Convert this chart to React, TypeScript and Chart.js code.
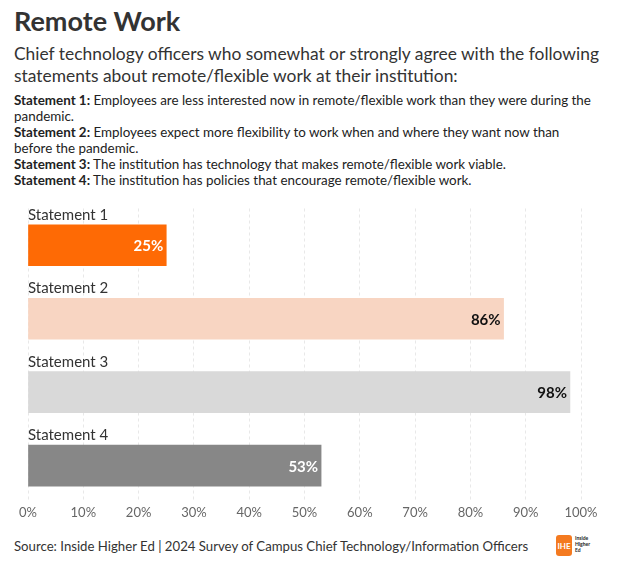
import React, { useEffect, useRef } from "react";
import { Chart, registerables } from "chart.js";

Chart.register(...registerables);

const categories = ["Statement 1", "Statement 2", "Statement 3", "Statement 4"];
const values = [25, 86, 98, 53];
const barColors = ["#fe6a05", "#f8d5c2", "#d9d9d9", "#878787"];
const valueLabelColors = ["#ffffff", "#111111", "#111111", "#ffffff"];
const xTicks = [0, 10, 20, 30, 40, 50, 60, 70, 80, 90, 100];

const FONT = "Lato, 'Open Sans', sans-serif";

const labelsPlugin = {
  id: "labelsPlugin",
  afterDatasetsDraw(chart: any) {
    const ctx = chart.ctx;
    const meta = chart.getDatasetMeta(0);
    const xScale = chart.scales.x;
    ctx.save();
    meta.data.forEach((bar: any, i: number) => {
      const top = bar.y - bar.height / 2;
      ctx.font = `15px ${FONT}`;
      ctx.fillStyle = "#333333";
      ctx.textAlign = "left";
      ctx.textBaseline = "alphabetic";
      ctx.fillText(categories[i], xScale.left, top - 5);
      ctx.font = `bold 15px ${FONT}`;
      ctx.fillStyle = valueLabelColors[i];
      ctx.textAlign = "right";
      ctx.textBaseline = "middle";
      ctx.fillText(values[i] + "%", bar.x - 3, bar.y + 1);
    });
    ctx.restore();
  },
};

function BarChart() {
  const ref = useRef<HTMLCanvasElement>(null);
  useEffect(() => {
    if (!ref.current) return;
    const chart = new Chart(ref.current, {
      type: "bar",
      data: {
        labels: categories,
        datasets: [
          {
            data: values,
            backgroundColor: barColors,
            barThickness: 41,
            borderWidth: 0,
          },
        ],
      },
      options: {
        indexAxis: "y",
        animation: false,
        responsive: false,
        maintainAspectRatio: false,
        layout: { padding: { left: 28, right: 36, top: 8.5, bottom: 6 } },
        plugins: { legend: { display: false }, tooltip: { enabled: false } },
        scales: {
          y: { display: false },
          x: {
            min: 0,
            max: 100,
            afterBuildTicks: (scale: any) => {
              scale.ticks = xTicks.map((v) => ({ value: v }));
            },
            border: { display: false, dash: [3, 3] },
            grid: {
              color: "#e8e8e8",
              drawTicks: false,
            },
            ticks: {
              padding: 3,
              color: "#666666",
              font: { family: FONT, size: 13 },
              callback: (v: any) => v + "%",
            },
          },
        },
      },
      plugins: [labelsPlugin],
    } as any);
    return () => chart.destroy();
  }, []);
  return <canvas ref={ref} width={617} height={330} style={{ display: "block" }} />;
}

export default function App() {
  useEffect(() => {
    document.body.style.margin = "0";
  }, []);
  const stmt = { whiteSpace: "nowrap" as const };
  return (
    <div style={{ position: "relative", width: 617, height: 572, background: "#fff", fontFamily: FONT, color: "#333" }}>
      <div style={{ position: "absolute", left: 14, top: 4, fontSize: 27, fontWeight: 700, color: "#333" }}>Remote Work</div>
      <div style={{ position: "absolute", left: 14, top: 43, fontSize: 17.4, lineHeight: "22px", color: "#333", whiteSpace: "nowrap" }}>
        Chief technology officers who somewhat or strongly agree with the following
        <br />
        statements about remote/flexible work at their institution:
      </div>
      <div style={{ position: "absolute", left: 14, top: 92, fontSize: 13.4, lineHeight: "16px", color: "#222" }}>
        <div style={stmt}><b>Statement 1:</b> Employees are less interested now in remote/flexible work than they were during the</div>
        <div style={stmt}>pandemic.</div>
        <div style={stmt}><b>Statement 2:</b> Employees expect more flexibility to work when and where they want now than</div>
        <div style={stmt}>before the pandemic.</div>
        <div style={stmt}><b>Statement 3:</b> The institution has technology that makes remote/flexible work viable.</div>
        <div style={stmt}><b>Statement 4:</b> The institution has policies that encourage remote/flexible work.</div>
      </div>
      <div style={{ position: "absolute", left: 0, top: 200 }}>
        <BarChart />
      </div>
      <div style={{ position: "absolute", left: 14, top: 538, fontSize: 13.2, color: "#333", whiteSpace: "nowrap" }}>
        Source: Inside Higher Ed | 2024 Survey of Campus Chief Technology/Information Officers
      </div>
      <div style={{ position: "absolute", left: 556, top: 535, width: 16, height: 21, background: "#f47a20", borderRadius: 3, color: "#fff", fontSize: 8, fontWeight: 700, display: "flex", alignItems: "center", justifyContent: "center" }}>IHE</div>
      <div style={{ position: "absolute", left: 575, top: 535, fontSize: 5, lineHeight: "6px", color: "#222", fontWeight: 700 }}>
        Inside<br />Higher<br />Ed
      </div>
    </div>
  );
}
